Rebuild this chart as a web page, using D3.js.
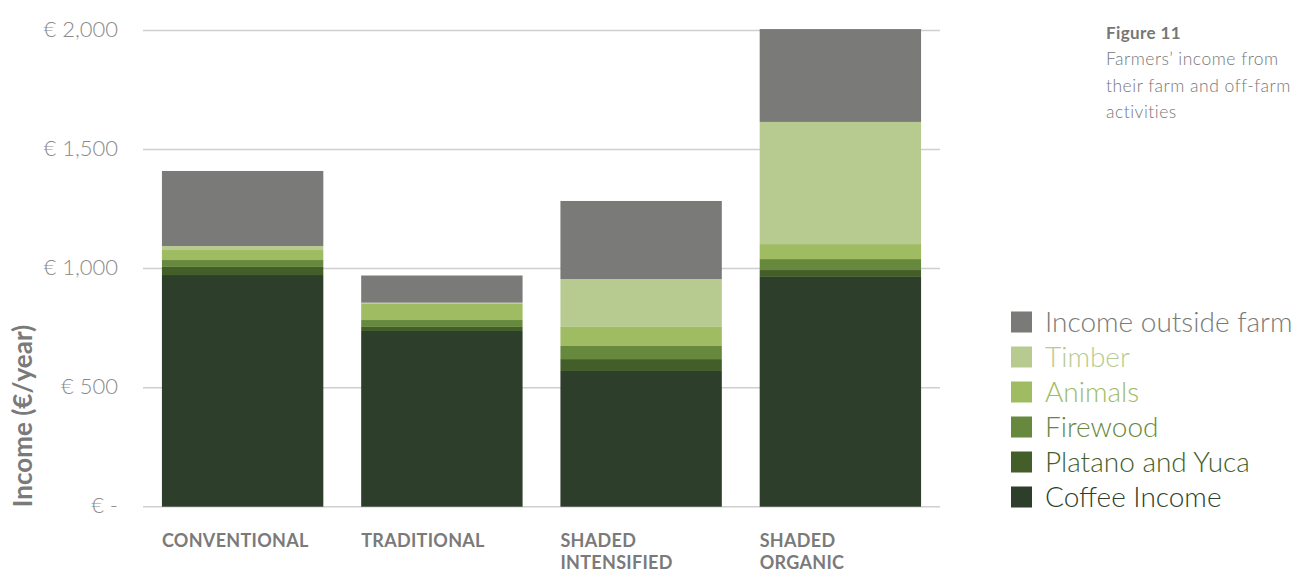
<!DOCTYPE html>
<html><head><meta charset="utf-8">
<script src="https://cdn.jsdelivr.net/npm/d3@7"></script>
<style>body{margin:0;background:#fff;font-family:Lato,"Open Sans",sans-serif;}</style>
</head><body><svg id="c" width="1297" height="572"></svg>
<script>
const categories = [["CONVENTIONAL"],["TRADITIONAL"],["SHADED","INTENSIFIED"],["SHADED","ORGANIC"]];
const seriesNames = ["Coffee Income","Platano and Yuca","Firewood","Animals","Timber","Income outside farm"];
const coffee   = [973, 738, 570, 965];
const platano  = [34, 17, 50, 29];
const firewood = [29, 29, 55, 46];
const animals  = [42, 70, 80, 63];
const timber   = [17, 3, 201, 513];
const outside  = [315, 114, 328, 390];
const tickValues = [0, 500, 1000, 1500, 2000];
const tickLabels = ["€ -", "€ 500", "€ 1,000", "€ 1,500", "€ 2,000"];
const colors = ["#2d3e2b","#445e2a","#66893e","#a0bc63","#b7cb90","#7a7a78"];
const textColors = ["#2d3e2b","#445e2a","#66893e","#a0bc63","#b7cb90","#7a7a78"];

const seriesVals = [coffee, platano, firewood, animals, timber, outside];
const rows = categories.map((c,i)=>{const o={key:i}; seriesNames.forEach((s,j)=>o[s]=seriesVals[j][i]); return o;});
const stack = d3.stack().keys(seriesNames)(rows);

const svg = d3.select("#c");
const x = d3.scaleBand().domain(categories.map((c,i)=>i)).range([143,940]).paddingInner(0.19).paddingOuter(0.095);
const y = d3.scaleLinear().domain([0,2000]).range([506.7,30.5]);

// gridlines
svg.append("g").selectAll("line").data(tickValues).join("line")
  .attr("x1",143).attr("x2",940).attr("y1",d=>y(d)).attr("y2",d=>y(d))
  .attr("stroke","#cfcfcf").attr("stroke-width",1.5);

// tick labels
svg.append("g").selectAll("text").data(tickValues).join("text")
  .attr("x",118).attr("y",d=>y(d)).attr("dy","0.3em").attr("text-anchor","end")
  .attr("font-size",22).attr("fill","#8a8a8a").attr("font-weight",300)
  .text((d,i)=>tickLabels[i]);

// bars
svg.append("g").selectAll("g").data(stack).join("g").attr("fill",(d,i)=>colors[i])
  .selectAll("rect").data(d=>d).join("rect")
  .attr("x",(d,i)=>x(i)).attr("width",x.bandwidth())
  .attr("y",d=>y(d[1])).attr("height",d=>y(d[0])-y(d[1]));

// category labels
const cl = svg.append("g").selectAll("text").data(categories).join("text")
  .attr("x",(d,i)=>x(i)).attr("y",547).attr("font-size",18).attr("font-weight",700)
  .attr("fill","#7a7a7a").attr("letter-spacing",0.3);
cl.selectAll("tspan").data(d=>d).join("tspan").attr("x",function(){return this.parentNode.getAttribute("x");})
  .attr("dy",(d,i)=>i?22:0).text(d=>d);

// y-axis title
svg.append("text").attr("transform","translate(32,416) rotate(-90)").attr("text-anchor","middle")
  .attr("font-size",26).attr("font-weight",700).attr("fill","#7a7a7a").text("Income (€/year)");

// legend
const legOrder = seriesNames.slice().reverse();
const lg = svg.append("g").selectAll("g").data(legOrder).join("g")
  .attr("transform",(d,i)=>`translate(1011,${322+i*35})`);
lg.append("rect").attr("x",0).attr("y",-10.5).attr("width",21).attr("height",21)
  .attr("fill",d=>colors[seriesNames.indexOf(d)]);
lg.append("text").attr("x",34).attr("y",0).attr("dy","0.36em").attr("font-size",28).attr("font-weight",300)
  .attr("fill",d=>textColors[seriesNames.indexOf(d)]).text(d=>d);

// figure caption
const cap = svg.append("g").attr("transform","translate(1106,0)");
cap.append("text").attr("y",39).attr("font-size",17).attr("font-weight",700).attr("letter-spacing",0.4).attr("fill","#777").text("Figure 11");
["Farmers’ income from","their farm and off-farm","activities"].forEach((t,i)=>
  cap.append("text").attr("y",65+i*26.5).attr("font-size",17.5).attr("letter-spacing",0.5).attr("font-weight",300).attr("fill","#777").text(t));
</script></body></html>
